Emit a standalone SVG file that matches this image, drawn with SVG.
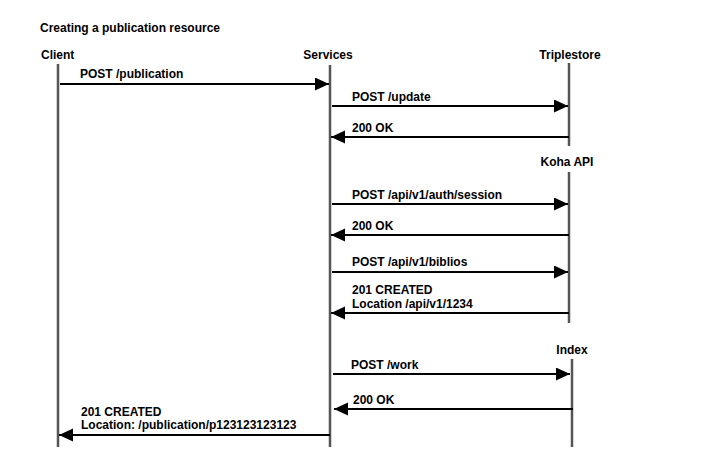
<svg xmlns="http://www.w3.org/2000/svg" width="723" height="472" viewBox="0 0 723 472">
<style>
text{font-family:"Liberation Sans",Arial,sans-serif;font-weight:bold;font-size:12px;fill:#000}
.life{stroke:#555;stroke-width:2.5;fill:none}
.msg{stroke:#000;stroke-width:2;fill:none;marker-end:url(#ah)}
</style>
<defs>
<marker id="ah" markerUnits="userSpaceOnUse" markerWidth="15" markerHeight="14" refX="14" refY="6.5" orient="auto">
<path d="M0,0 L14,6.5 L0,13 z" fill="#000"/>
</marker>
</defs>
<rect width="723" height="472" fill="#fff"/>
<text x="40" y="32">Creating a publication resource</text>
<g id="client">
<text x="41" y="59">Client</text>
<line class="life" x1="58" y1="64" x2="58" y2="447"/>
</g>
<g id="services">
<text x="328" y="59" text-anchor="middle">Services</text>
<line class="life" x1="330" y1="65" x2="330" y2="447"/>
</g>
<g id="triplestore">
<text x="570" y="59" text-anchor="middle">Triplestore</text>
<line class="life" x1="569" y1="63" x2="569" y2="146"/>
</g>
<g id="koha">
<text x="567" y="166" text-anchor="middle">Koha API</text>
<line class="life" x1="569" y1="172" x2="569" y2="323"/>
</g>
<g id="index">
<text x="572" y="354" text-anchor="middle">Index</text>
<line class="life" x1="572" y1="359" x2="572" y2="447"/>
</g>
<g id="connectors">
<line class="msg" x1="60" y1="84" x2="329" y2="84"/>
<text x="80" y="78">POST /publication</text>
<line class="msg" x1="332" y1="106" x2="568" y2="106"/>
<text x="352" y="101">POST /update</text>
<line class="msg" x1="569" y1="137" x2="331" y2="137"/>
<text x="352" y="132">200 OK</text>
<line class="msg" x1="332" y1="204" x2="568" y2="204"/>
<text x="352" y="199">POST /api/v1/auth/session</text>
<line class="msg" x1="569" y1="235" x2="331" y2="235"/>
<text x="352" y="230">200 OK</text>
<line class="msg" x1="332" y1="272" x2="568" y2="272"/>
<text x="352" y="266">POST /api/v1/biblios</text>
<line class="msg" x1="569" y1="313" x2="331" y2="313"/>
<text x="352" y="294">201 CREATED</text>
<text x="352" y="308">Location /api/v1/1234</text>
<line class="msg" x1="333" y1="374" x2="570" y2="374"/>
<text x="351" y="369">POST /work</text>
<line class="msg" x1="573" y1="409" x2="334" y2="409"/>
<text x="353" y="404">200 OK</text>
<line class="msg" x1="330" y1="435" x2="59" y2="435"/>
<text x="81" y="416">201 CREATED</text>
<text x="81" y="429">Location: /publication/p123123123123</text>
</g>
</svg>
